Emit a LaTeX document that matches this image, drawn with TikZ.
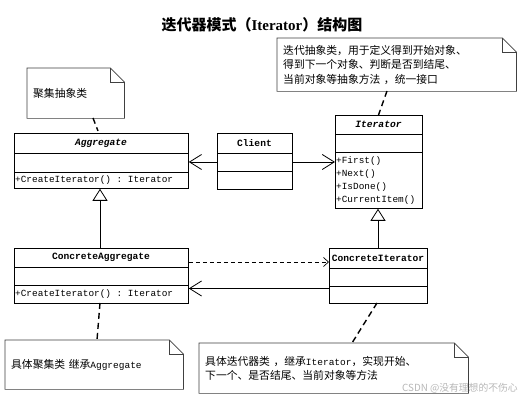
\documentclass[tikz,border=0pt]{standalone}
\usepackage{fontspec}
\setmonofont{Liberation Mono}
\newfontfamily\cjk{Noto Sans CJK SC}
\newfontfamily\serifb{Liberation Serif}
\usetikzlibrary{arrows.meta}
\tikzset{
  cls/.style={draw, line width=0.8pt, inner sep=0pt, anchor=north west},
  clsname/.style={font=\ttfamily\bfseries\fontsize{9.6}{11}\selectfont, inner sep=0pt},
  meth/.style={font=\ttfamily\fontsize{9.4}{13}\selectfont, inner sep=0pt, anchor=west, align=left},
  sep/.style={line width=0.8pt},
  assoc/.style={line width=0.7pt, -{Straight Barb[length=12pt,width=15pt,line width=0.8pt]}},
  gen/.style={line width=0.7pt, -{Triangle[open,length=12pt,width=15pt,line width=0.8pt,fill=white]}},
  dep/.style={line width=0.7pt, dash pattern=on 4pt off 3pt, -{Straight Barb[length=5pt,width=9pt,line width=0.7pt]}},
  notelink/.style={line width=1.4pt, dash pattern=on 6pt off 4pt},
  note/.style={inner xsep=6pt, inner ysep=0pt, anchor=north west, align=left,
               font=\cjk\fontsize{10.8}{14.5}\selectfont},
  noteline/.style={line width=0.7pt, draw=black!75},
}
\newcommand\foldnote[1]{%
  \draw[noteline] (#1.north west) -- ([xshift=-14pt]#1.north east)
     -- ([yshift=-14pt]#1.north east) -- (#1.south east) -- (#1.south west) -- cycle;
  \draw[noteline] ([xshift=-14pt]#1.north east) |- ([yshift=-14pt]#1.north east);
}
\newcommand\lat[1]{{\ttfamily\fontsize{9.5}{12}\selectfont #1}}
\begin{document}
\begin{tikzpicture}[x=1pt,y=-1pt]
\useasboundingbox[fill=white] (0,0) rectangle (523,403);

% title
\node[inner sep=0pt, font=\cjk\bfseries\fontsize{15}{18}\selectfont] (title) at (262,25)
  {迭代器模式（{\serifb\bfseries Iterator}）结构图};

% class boxes
\node[cls, minimum width=174pt, minimum height=55pt] (agg) at (14,133) {};
\node[cls, minimum width=75pt, minimum height=56pt] (client) at (217,133) {};
\node[cls, minimum width=87pt, minimum height=93pt] (iter) at (335,115) {};
\node[cls, minimum width=174pt, minimum height=55pt] (cagg) at (14,248) {};
\node[cls, minimum width=98pt, minimum height=55pt] (citer) at (329,248) {};

% compartments
\draw[sep] (14,153) -- (188,153) (14,172) -- (188,172);
\draw[sep] (217,153) -- (292,153) (217,171) -- (292,171);
\draw[sep] (335,134) -- (422,134) (335,152) -- (422,152);
\draw[sep] (14,267) -- (188,267) (14,285) -- (188,285);
\draw[sep] (329,268) -- (427,268) (329,286) -- (427,286);

% class names
\node[clsname] (aggn) at (101,143) {\itshape Aggregate};
\node[clsname] (clientn) at (254.5,143) {Client};
\node[clsname] (itern) at (378.5,124.5) {\itshape Iterator};
\node[clsname] (caggn) at (101,257.5) {ConcreteAggregate};
\node[clsname] (citern) at (378,258) {ConcreteIterator};

% methods
\node[meth] (aggm) at (15,180.5) {+CreateIterator() : Iterator};
\node[meth] (caggm) at (15,294) {+CreateIterator() : Iterator};
\node[meth] (iterm) at (336,180.5) {+First()\\+Next()\\+IsDone()\\+CurrentItem()};

% helper coordinates
\coordinate (yc) at (0,162);
\coordinate (yd) at (0,262);
\coordinate (ys) at (0,288.5);
\coordinate (xa) at (100,0);
\coordinate (xi) at (378,0);

% connectors
\draw[assoc] (client.west |- yc) -- (agg.east |- yc);
\draw[assoc] (client.east |- yc) -- (iter.west |- yc);
\draw[gen] (cagg.north -| xa) -- (agg.south -| xa);
\draw[gen] (citer.north -| xi) -- (iter.south -| xi);
\draw[dep] (cagg.east |- yd) -- (citer.west |- yd);
\draw[assoc] (citer.west |- ys) -- (cagg.east |- ys);

% notes
\node[note, minimum width=97pt, minimum height=50pt, text width=85pt] (n1) at (27,68) {聚集抽象类};
\node[note, minimum width=239pt, minimum height=53pt, text width=227pt] (n2) at (277,38)
  {迭代抽象类，用于定义得到开始对象、\\得到下一个对象、判断是否到结尾、\\当前对象等抽象方法 ，统一接口};
\node[note, minimum width=178pt, minimum height=49pt, text width=166pt] (n3) at (5,340)
  {具体聚集类 继承\lat{Aggregate}};
\node[note, minimum width=269pt, minimum height=50pt, text width=257pt] (n4) at (199,343)
  {具体迭代器类 ，继承\lat{Iterator}，实现开始、\\下一个、是否结尾、当前对象等方法};
\foldnote{n1}
\foldnote{n2}
\foldnote{n3}
\foldnote{n4}

\coordinate (l1a) at (93,118);
\coordinate (l1b) at (98,131);
\draw[notelink] (l1a) -- (l1b);
\coordinate (l2a) at (387,91);
\coordinate (l2b) at (378.5,115);
\draw[notelink] (l2a) -- (l2b);
\coordinate (l3a) at (100,303);
\coordinate (l3b) at (97,340);
\draw[notelink] (l3a) -- (l3b);
\coordinate (l4a) at (377,303);
\coordinate (l4b) at (352,343);
\draw[notelink] (l4a) -- (l4b);

% watermark
\node[inner sep=0pt, anchor=west, text=black!28, font=\cjk\fontsize{9.8}{12}\selectfont] (wm) at (402,388)
  {CSDN @没有理想的不伤心};
\end{tikzpicture}
\end{document}
